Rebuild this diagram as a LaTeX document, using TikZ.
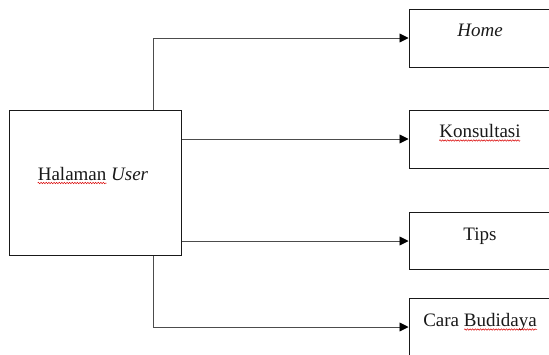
\documentclass[tikz,border=0pt]{standalone}
\usepackage{fontspec}
\setmainfont{Liberation Serif}
\usetikzlibrary{arrows.meta,decorations.pathmorphing,calc}
\begin{document}
\begin{tikzpicture}[x=1pt,y=-1pt,
  frame/.style={draw=black!90,line width=1pt,inner sep=0pt},
  pagebox/.style={frame,minimum width=142pt,minimum height=58pt},
  lbl/.style={inner sep=0pt,anchor=base,text=black!90,font=\fontsize{19}{22}\selectfont},
  conn/.style={draw=black!70,line width=0.9pt,
    -{Triangle[length=9pt,width=9pt,color=black]}},
  spell/.style={draw=red!85!black,line width=0.5pt,decorate,
    decoration={snake,amplitude=0.7pt,segment length=2.6pt}}]
\useasboundingbox (0,0) rectangle (549,354);
\clip (0,0) rectangle (549,354);

% main page box
\node[frame,minimum width=172pt,minimum height=145pt] (user) at (95,183) {};
\node[lbl] (usert) at (93,180) {Halaman \textit{User}};

% target pages
\node[pagebox] (home) at (480,38) {};
\node[pagebox] (kons) at (480,139) {};
\node[pagebox,minimum height=57pt] (tips) at (480,241) {};
\node[pagebox] (cara) at (480,327) {};

\node[lbl] (homet) at ($(home.north)+(0,28)$) {\textit{Home}};
\node[lbl] (konst) at ($(kons.north)+(0,28)$) {Konsultasi};
\node[lbl] (tipst) at ($(tips.north)+(0,28.5)$) {Tips};
\node[lbl] (carat) at ($(cara.north)+(0,29)$) {Cara Budidaya};

% spell-check underlines
\draw[spell] ($(usert.base west)+(0,3)$) -- ++(69,0);
\draw[spell] ($(konst.base west)+(0,3)$) -- ++(81,0);
\draw[spell] ($(carat.base west)+(41,3)$) -- ++(73,0);

% connectors
\coordinate (trunk) at (153,0);
\draw[conn] (user.north -| trunk) |- (home.west);
\draw[conn] (user.east |- kons.west) -- (kons.west);
\draw[conn] (user.east |- tips.west) -- (tips.west);
\draw[conn] (user.south -| trunk) |- (cara.west);
\end{tikzpicture}
\end{document}
